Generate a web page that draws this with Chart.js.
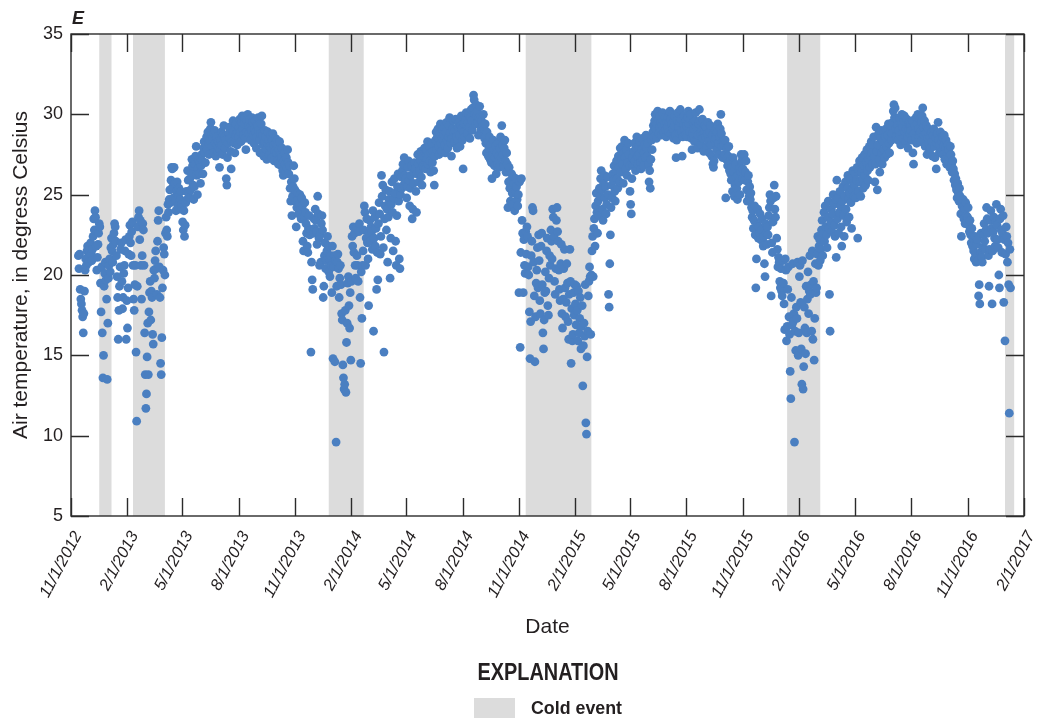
<!DOCTYPE html>
<html><head><meta charset="utf-8">
<script src="https://cdn.jsdelivr.net/npm/chart.js@4.4.1/dist/chart.umd.min.js"></script>
<style>html,body{margin:0;padding:0;background:#fff;}canvas{display:block;}</style>
</head><body>
<canvas id="c" width="1039" height="721"></canvas>
<script>
// ---------------- DATA ----------------
const seriesStart = '2012-11-13';   // first daily value
// daily air temperature, degrees Celsius
const temps2012 = [ // Nov 13 - Dec 31
 21.2,20.4,21.3,19.1,18.5,18.2,17.8,17.4,16.4,17.6,19.0,20.3,21.0,20.6,21.5,21.8,21.1,20.8,
 21.4,21.7,22.0,21.3,20.9,21.6,22.4,23.5,22.8,24.0,23.6,21.8,20.3,21.1,21.9,22.6,23.2,23.0,19.5,17.7,20.5,16.4,13.6,15.0,19.3,20.1,20.8,19.7,18.5,13.5,17.0];
const temps2013 = [
 19.8,20.6,21.0,20.2,21.7,22.3,21.5,20.8,21.9,22.6,23.2,23.0,22.1,21.2,19.9,18.6,16.0,17.8,19.3,20.5,21.6,22.0,19.6,17.9,18.6,20.1,20.6,21.5,22.2,16.0,18.4,
 16.7,19.2,21.3,22.4,23.1,22.0,21.2,22.7,23.3,20.6,18.5,17.8,19.4,20.6,15.2,10.9,19.3,23.0,23.6,24.0,22.2,23.4,20.6,18.5,21.2,23.2,22.8,20.6,
 16.4,13.8,11.7,12.6,14.9,17.0,13.8,17.7,18.9,19.6,17.2,19.0,18.6,16.3,15.7,20.3,19.8,20.9,21.5,20.4,18.8,22.1,23.4,24.0,20.5,18.6,14.5,13.8,16.1,19.2,20.3,
 21.7,21.3,20.0,22.6,23.6,22.8,22.4,24.4,23.9,24.7,25.3,24.5,25.9,26.7,26.6,25.5,24.8,26.7,25.7,24.6,24.0,25.2,25.8,24.3,24.9,25.4,24.1,24.7,25.2,24.4,
 24.2,23.3,22.8,24.0,22.4,23.1,24.5,25.2,24.7,26.5,25.9,25.1,24.8,26.0,25.3,26.4,27.2,26.8,25.6,24.7,25.5,26.9,27.4,28.0,26.2,25.0,26.6,27.1,26.3,27.0,25.7,
 26.8,27.5,27.1,26.3,27.9,28.3,27.6,27.0,28.1,28.6,27.8,28.9,28.2,27.5,28.4,29.1,29.5,28.7,28.0,28.5,27.6,28.8,29.0,28.2,27.4,28.6,28.1,27.7,28.3,27.9,
 26.7,27.8,28.4,28.9,28.1,27.5,28.7,29.3,28.6,27.9,28.4,26.0,25.6,27.3,28.2,28.8,29.2,28.5,27.7,26.6,28.3,29.0,29.6,28.9,28.2,27.6,28.7,29.4,28.8,28.1,28.9,
 28.6,29.2,29.7,28.9,28.3,29.5,29.9,29.1,28.7,29.4,29.8,28.5,27.8,28.9,29.6,30.0,29.3,28.8,29.7,29.2,28.4,29.0,29.8,29.5,28.7,28.2,29.1,29.6,28.9,27.9,28.6,
 29.3,29.8,29.0,28.4,27.6,28.8,29.4,29.9,28.7,28.1,27.4,28.3,29.0,28.6,27.8,27.2,28.2,28.9,28.4,27.5,28.0,28.7,27.9,27.3,28.4,28.8,28.1,27.1,27.7,28.5,
 28.2,27.6,28.4,27.1,26.9,27.8,28.3,27.5,26.8,27.3,27.9,26.5,26.2,27.1,27.6,26.9,26.4,27.3,26.7,27.8,27.0,26.3,26.8,25.4,24.6,25.8,23.7,24.9,25.5,26.8,26.0,
 25.3,24.6,23.0,24.2,25.1,24.7,23.8,24.4,25.0,24.1,23.5,24.8,24.3,22.1,21.5,23.6,24.5,23.9,23.2,22.6,21.8,21.4,22.9,23.7,22.5,22.8,15.2,20.8,19.7,19.1,
 22.6,23.5,22.9,24.1,23.4,22.7,21.9,24.9,23.8,22.3,20.6,22.5,20.8,23.2,23.7,22.8,18.6,19.3,21.2,22.0,20.4,20.9,21.5,22.4,21.8,20.2,21.0,19.9,21.2,20.6,18.9];
const temps2014 = [
 21.8,14.8,20.5,21.2,14.6,20.9,9.6,19.3,20.8,21.3,20.4,18.6,19.8,20.6,19.4,17.6,17.2,14.4,13.6,12.9,13.2,17.8,12.7,15.8,17.0,19.5,19.9,18.1,16.7,18.9,14.7,
 19.6,22.4,21.8,23.0,21.4,22.6,20.6,19.8,22.9,21.2,20.6,19.6,22.7,23.2,18.6,14.5,20.2,17.3,20.6,21.5,22.8,24.3,23.9,20.6,22.3,23.5,22.0,21.0,
 18.1,22.6,23.4,22.1,23.0,22.7,21.6,24.0,16.5,22.3,23.6,21.8,22.9,19.1,21.4,19.7,23.2,24.5,23.8,21.3,22.4,26.2,24.9,25.6,21.7,15.2,23.5,24.3,25.3,22.8,24.1,
 20.8,23.6,24.7,25.2,19.8,22.3,24.4,25.8,23.9,21.5,24.8,26.0,25.1,22.1,20.6,23.7,25.5,26.3,24.6,21.0,20.4,25.0,26.1,25.4,26.5,26.9,25.6,27.3,26.2,25.8,
 26.0,24.8,25.5,26.7,27.1,25.9,24.3,25.4,26.2,26.8,23.5,24.1,25.7,26.4,27.0,26.6,25.2,23.9,26.3,27.5,26.9,25.8,26.5,27.2,27.7,26.1,25.6,26.8,27.4,26.7,27.9,
 27.3,26.6,27.8,27.2,28.3,26.9,27.5,28.0,27.1,26.4,27.6,28.2,27.0,27.7,26.5,25.6,27.4,28.4,28.9,27.8,28.6,29.1,28.0,27.5,28.8,29.4,28.2,27.7,28.5,29.0,
 28.7,29.2,28.1,27.6,28.9,29.5,28.4,27.9,28.6,29.3,29.8,28.8,28.2,27.4,28.5,29.1,29.6,28.9,28.3,29.0,29.7,28.6,27.9,28.4,29.2,29.5,28.7,28.0,29.3,29.9,29.1,
 28.4,26.6,28.9,29.4,28.6,29.7,30.1,29.3,28.8,29.5,30.0,29.2,28.5,29.8,30.3,29.6,29.0,30.4,31.2,30.9,30.0,29.4,30.6,29.9,30.2,29.5,28.7,29.8,30.5,29.7,29.1,
 29.6,28.8,29.3,30.0,29.1,28.5,29.4,28.2,27.6,28.9,28.3,27.4,27.9,28.6,27.2,28.1,27.0,26.0,27.5,28.4,27.8,26.8,27.3,28.0,26.3,27.6,26.9,28.2,27.4,26.7,
 27.9,28.6,27.3,29.3,28.1,27.5,26.8,27.9,28.4,27.1,26.4,27.6,26.9,24.2,25.8,26.7,25.4,24.6,25.9,26.3,25.1,24.4,26.1,25.7,24.0,25.2,26.0,25.5,24.7,24.3,25.0,
 18.9,25.8,15.5,21.4,26.0,23.4,22.6,18.9,22.2,20.6,20.1,22.7,21.3,23.0,22.4,20.5,20.0,17.7,14.8,17.1,21.2,22.1,24.2,24.0,20.8,18.7,14.6,17.4,19.5,20.3,
 21.7,19.2,22.5,20.9,18.4,17.6,21.8,22.6,19.4,16.4,15.4,17.2,18.9,20.2,19.0,21.5,22.3,18.1,17.5,19.8,21.2,20.6,22.8,22.1,21.0,24.1,23.6,22.4,19.6,18.8,20.4];
const temps2015 = [
 23.4,24.2,22.7,22.1,20.3,19.1,18.4,20.7,21.9,17.6,16.7,18.5,20.4,21.6,19.2,17.4,18.3,20.7,19.5,17.1,16.0,18.8,21.6,19.6,14.5,17.9,15.9,16.3,18.9,17.5,19.4,
 18.2,16.9,19.3,17.8,15.9,19.0,16.4,17.3,18.6,15.4,16.8,18.1,13.1,15.6,17.0,16.2,19.4,10.8,10.1,14.9,16.5,18.7,19.6,20.5,19.9,16.3,20.0,21.5,
 22.4,19.9,22.9,23.5,21.8,24.3,25.1,23.9,22.6,24.6,23.7,25.4,24.9,26.0,26.5,25.3,24.1,23.4,25.7,26.2,24.8,25.5,23.8,24.4,26.1,25.0,18.8,18.0,20.7,22.5,24.2,
 25.6,24.8,26.3,25.9,26.8,25.2,24.6,26.5,27.1,26.0,25.4,27.4,26.7,25.8,27.9,26.4,27.2,28.0,26.9,25.7,27.6,28.4,27.3,26.6,27.8,26.2,27.0,28.2,27.5,26.8,
 25.2,24.4,23.8,26.0,27.3,26.8,27.7,28.2,27.1,26.5,27.9,28.6,27.4,26.9,28.0,27.5,28.3,27.0,26.6,27.8,28.5,27.2,26.8,27.6,28.1,27.3,28.7,27.9,27.4,28.2,26.9,
 25.8,26.5,25.4,27.2,28.4,27.8,28.9,29.3,28.6,29.6,30.0,29.1,28.5,29.4,30.2,29.7,28.8,29.2,29.9,29.5,28.7,29.3,30.1,29.6,28.9,29.4,29.8,29.0,28.6,29.5,
 29.2,29.8,28.9,29.5,30.2,29.7,28.8,29.4,30.0,29.1,28.5,29.3,29.9,28.7,27.3,28.4,29.6,30.1,29.2,28.8,29.5,30.3,29.7,28.9,27.4,28.6,29.4,29.9,29.1,28.7,29.6,
 29.3,28.6,29.8,30.2,29.4,28.9,29.7,30.0,28.5,27.8,28.8,29.5,29.1,28.3,29.6,30.1,29.2,28.4,27.9,28.7,29.4,30.3,29.6,28.8,28.1,29.0,29.7,28.5,27.7,28.9,29.3,
 28.6,29.2,28.0,28.8,29.5,28.3,27.6,28.9,29.3,28.1,27.4,28.7,26.9,26.7,27.1,28.4,29.0,28.5,27.8,28.9,29.4,28.2,27.5,28.6,29.1,30.0,28.8,28.0,27.3,28.4,
 28.1,27.5,28.4,24.8,27.2,27.9,26.8,27.4,28.0,26.5,27.1,26.3,25.9,26.7,25.2,27.3,26.4,24.9,25.6,26.9,26.1,25.4,24.7,26.2,25.8,26.6,25.0,26.4,27.5,27.1,26.0,
 26.6,27.3,27.5,25.9,26.4,27.1,25.3,24.6,25.8,26.2,24.9,25.5,24.7,25.1,24.2,23.6,24.0,22.9,23.4,24.3,22.5,19.2,21.0,23.1,24.1,22.3,23.0,22.6,23.8,22.2,
 22.8,23.5,22.1,21.8,22.4,20.7,19.9,23.2,22.6,21.9,23.0,22.5,23.7,24.2,25.0,24.6,18.7,22.0,21.4,23.3,24.8,25.6,24.1,23.6,24.9,22.3,21.6,20.5,21.1,20.8,19.6];
const temps2016 = [
 19.2,20.4,19.0,18.7,20.9,19.5,18.2,16.6,21.0,20.3,15.9,16.8,19.1,20.5,17.4,16.3,14.0,12.3,18.6,16.9,20.7,17.1,17.6,9.6,16.5,15.3,18.0,17.3,20.8,15.0,16.4,
 19.9,20.6,18.3,15.4,13.2,20.9,12.9,14.3,18.0,16.7,15.1,19.3,16.4,18.5,20.2,17.6,19.0,21.2,18.8,19.4,16.5,21.5,16.0,19.6,14.7,17.3,20.7,18.9,19.2,
 21.3,22.4,20.6,21.8,22.2,20.9,21.6,22.8,23.4,21.2,22.6,23.9,22.1,24.3,23.0,22.5,21.7,23.6,24.6,22.9,18.8,16.5,23.3,24.1,22.7,23.8,25.0,24.4,23.1,22.4,24.7,
 21.1,25.9,23.5,24.8,22.6,23.9,25.2,24.3,23.0,21.8,24.6,25.5,23.7,22.4,24.9,25.8,24.1,23.3,25.4,26.2,24.7,23.6,25.1,26.0,24.5,22.9,25.3,26.5,25.7,24.9,
 25.6,26.3,24.8,25.9,26.7,22.3,25.2,26.5,27.1,25.8,24.9,26.4,27.3,26.0,25.4,26.8,27.5,26.2,25.6,27.0,27.8,26.5,25.9,27.2,28.0,26.7,27.4,28.3,27.6,26.9,28.1,
 28.6,27.4,25.8,26.9,29.2,27.7,25.3,28.1,28.8,27.2,26.4,28.5,29.0,27.6,26.9,28.3,28.9,27.8,27.3,28.6,29.1,28.0,27.5,28.7,29.4,28.2,27.6,28.9,29.3,28.4,
 28.8,29.5,30.2,30.6,29.8,30.4,29.1,28.6,29.7,29.3,28.4,29.0,29.8,28.7,28.1,29.4,30.0,29.2,28.5,29.6,29.9,28.9,28.3,29.1,29.7,28.6,27.9,29.0,29.5,28.8,29.3,
 29.0,28.4,29.6,27.6,26.9,28.8,29.3,28.5,29.8,28.2,29.4,30.0,29.1,28.6,29.7,28.9,28.3,29.5,29.9,30.4,29.2,28.7,29.6,28.0,28.8,29.3,27.5,28.5,29.1,28.2,27.8,
 28.6,27.9,28.9,28.3,27.4,28.7,29.1,28.0,27.3,28.5,26.6,28.2,28.8,29.5,28.4,27.6,28.1,28.9,27.7,28.3,28.6,27.5,28.0,28.7,27.2,27.9,28.4,26.9,27.6,28.1,
 27.8,27.3,26.7,28.0,27.5,26.9,26.4,27.1,26.6,25.9,26.3,25.6,26.0,25.3,24.8,25.7,25.1,24.6,25.4,24.9,23.8,22.4,24.3,23.9,24.7,23.5,24.1,23.2,24.5,23.7,23.3,
 23.6,24.2,23.1,22.7,23.4,22.5,22.0,22.9,21.8,22.3,21.5,21.0,22.4,21.3,20.8,21.9,22.2,20.9,18.7,19.4,18.2,21.4,22.6,21.1,20.8,21.7,22.5,23.2,22.1,21.6,
 22.8,24.2,23.5,22.6,21.2,19.3,21.6,23.4,24.0,22.9,18.2,21.5,22.7,23.6,22.3,21.8,23.3,24.4,23.1,22.2,21.7,20.0,19.2,23.5,24.1,22.8,21.4,22.6,23.7,18.3,22.2];
const temps2017 = [15.9,21.3,23.0,22.4,20.8,22.0,19.4,11.4,21.6,19.2]; // Jan 1 - 10

const tickLabels = ['11/1/2012','2/1/2013','5/1/2013','8/1/2013','11/1/2013','2/1/2014','5/1/2014','8/1/2014',
  '11/1/2014','2/1/2015','5/1/2015','8/1/2015','11/1/2015','2/1/2016','5/1/2016','8/1/2016','11/1/2016','2/1/2017'];
const yTicks = [5,10,15,20,25,30,35];
const coldEventStarts = ['2012-12-17','2013-02-10','2013-12-26','2014-11-12','2016-01-12','2017-01-01'];
const coldEventEnds   = ['2013-01-06','2013-04-03','2014-02-21','2015-02-27','2016-03-06','2017-01-16'];

const panelLabel = 'E';
const xTitle = 'Date';
const yTitle = 'Air temperature, in degress Celsius';
const legendTitle = 'EXPLANATION';
const legendItem = 'Cold event';

// ---------------- STYLE ----------------
const TEXT = '#231f20';
const DOT = 'rgb(74,127,193)';
const BAND = '#dcdcdc';
const FONT = "'Liberation Sans', Arial, sans-serif";

// ---------------- HELPERS ----------------
const ORIGIN = Date.UTC(2012, 10, 1);
function dayOfISO(s){ const [y,m,d] = s.split('-').map(Number); return (Date.UTC(y,m-1,d)-ORIGIN)/864e5; }
function dayOfLabel(l){ const [m,d,y] = l.split('/').map(Number); return (Date.UTC(y,m-1,d)-ORIGIN)/864e5; }
const tickDays = tickLabels.map(dayOfLabel);

const allTemps = [].concat(temps2012, temps2013, temps2014, temps2015, temps2016, temps2017);
const d0 = dayOfISO(seriesStart);
const points = allTemps.map((t, i) => ({x: d0 + i, y: t}));

const bandsPlugin = {
  id: 'bands',
  beforeDatasetsDraw(chart){
    const {ctx, chartArea: a, scales: {x}} = chart;
    ctx.save();
    ctx.fillStyle = BAND;
    coldEventStarts.forEach((s, i) => {
      const x1 = x.getPixelForValue(dayOfISO(s));
      const x2 = x.getPixelForValue(dayOfISO(coldEventEnds[i]));
      ctx.fillRect(x1, a.top, x2 - x1, a.bottom - a.top);
    });
    ctx.restore();
  }
};

const framePlugin = {
  id: 'frame',
  afterDatasetsDraw(chart){
    const {ctx, chartArea: a, scales: {x, y}} = chart;
    const TL = 18;
    ctx.save();
    ctx.strokeStyle = '#2b2b2b';
    ctx.lineWidth = 1.4;
    ctx.strokeRect(a.left, a.top, a.right - a.left, a.bottom - a.top);
    ctx.beginPath();
    tickDays.forEach(v => {
      const px = Math.round(x.getPixelForValue(v)) + 0.5;
      ctx.moveTo(px, a.bottom); ctx.lineTo(px, a.bottom - TL);
      ctx.moveTo(px, a.top); ctx.lineTo(px, a.top + TL);
    });
    yTicks.forEach(v => {
      const py = Math.round(y.getPixelForValue(v)) + 0.5;
      ctx.moveTo(a.left, py); ctx.lineTo(a.left + TL, py);
      ctx.moveTo(a.right, py); ctx.lineTo(a.right - TL, py);
    });
    ctx.stroke();
    ctx.restore();
  }
};

function fitText(ctx, text, font, targetW, cx, cy, align){
  ctx.save();
  ctx.font = font;
  const w = ctx.measureText(text).width;
  const sx = targetW / w;
  ctx.translate(cx, cy);
  ctx.scale(sx, 1);
  ctx.textAlign = align; ctx.textBaseline = 'middle';
  ctx.fillText(text, 0, 0);
  ctx.restore();
}

const annotPlugin = {
  id: 'annot',
  afterDraw(chart){
    const {ctx} = chart;
    ctx.save();
    ctx.fillStyle = TEXT;
    ctx.font = "italic bold 18px " + FONT;
    ctx.textAlign = 'left'; ctx.textBaseline = 'alphabetic';
    ctx.fillText(panelLabel, 72, 24);
    fitText(ctx, legendTitle, "bold 23px " + FONT, 141, 548, 674, 'center');
    ctx.fillStyle = BAND;
    ctx.fillRect(474, 698, 41, 20);
    ctx.fillStyle = TEXT;
    fitText(ctx, legendItem, "bold 18px " + FONT, 91, 531, 709, 'left');
    ctx.restore();
  }
};

new Chart(document.getElementById('c'), {
  type: 'scatter',
  data: { datasets: [{
    data: points,
    pointRadius: 4.4, pointHoverRadius: 4.4,
    pointBackgroundColor: DOT, pointBorderWidth: 0, pointBorderColor: DOT,
    showLine: false
  }]},
  options: {
    responsive: false, animation: false,
    layout: { padding: { left: 0, top: 34, right: 15, bottom: 77 } },
    plugins: { legend: { display: false }, tooltip: { enabled: false } },
    scales: {
      x: {
        type: 'linear',
        min: tickDays[0], max: tickDays[tickDays.length - 1],
        afterBuildTicks: s => { s.ticks = tickDays.map(v => ({ value: v })); },
        afterFit: s => { s.height = 128; s.paddingLeft = 0; s.paddingRight = 0; },
        grid: { display: false, drawTicks: false },
        border: { display: false },
        ticks: {
          autoSkip: false, minRotation: 62, maxRotation: 62, padding: 12, labelOffset: 7,
          color: TEXT, font: { family: FONT, size: 16.5, style: 'italic' },
          callback: v => tickLabels[tickDays.indexOf(v)]
        },
        title: { display: true, text: xTitle, color: TEXT, font: { family: FONT, size: 21 }, padding: { top: 0, bottom: 4 } }
      },
      y: {
        min: 5, max: 35,
        afterBuildTicks: s => { s.ticks = yTicks.map(v => ({ value: v })); },
        afterFit: s => { s.width = 71; s.paddingTop = 0; s.paddingBottom = 0; },
        grid: { display: false, drawTicks: false },
        border: { display: false },
        ticks: { padding: 8, color: TEXT, font: { family: FONT, size: 18 } },
        title: { display: true, text: yTitle, color: TEXT, font: { family: FONT, size: 21 }, padding: { top: 9, bottom: 0 } }
      }
    }
  },
  plugins: [bandsPlugin, framePlugin, annotPlugin]
});
</script>
</body></html>
